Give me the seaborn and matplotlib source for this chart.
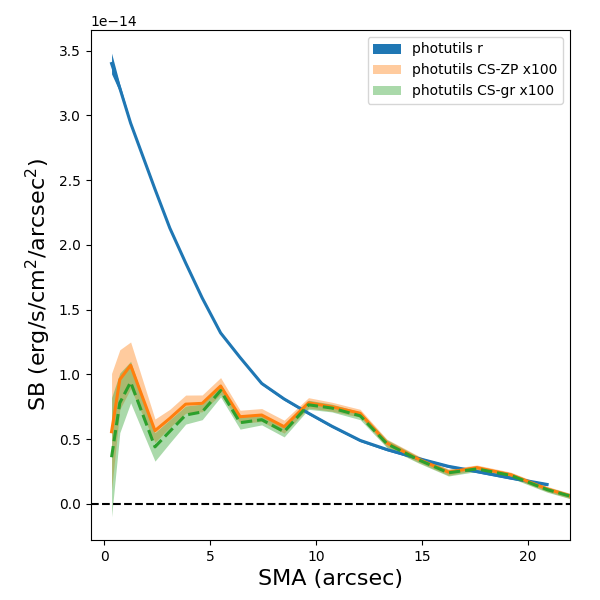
import numpy as np
import pandas as pd
import matplotlib
matplotlib.use("Agg")
import matplotlib.pyplot as plt
import seaborn as sns

# SMA (arcsec)
sma = [0.35, 0.74, 1.25, 2.40, 3.10, 3.85, 4.63, 5.50, 6.42, 7.44, 8.50,
       9.65, 10.75, 12.09, 13.35, 14.85, 16.26, 17.60, 19.20, 20.92, 22.0]

# photutils r (units of 1e-14)
sb_r = [3.40, 3.21, 2.94, 2.43, 2.13, 1.86, 1.59, 1.32, 1.13, 0.93, 0.81,
        0.70, 0.60, 0.49, 0.42, 0.35, 0.29, 0.25, 0.20, 0.15]
err_r = [0.08, 0.03, 0.01, 0.01, 0.01, 0.01, 0.01, 0.01, 0.01, 0.01, 0.01,
         0.01, 0.01, 0.01, 0.01, 0.01, 0.01, 0.01, 0.01, 0.01]

# photutils CS-ZP x100
sb_zp = [0.557, 0.96, 1.07, 0.565, 0.66, 0.77, 0.776, 0.91, 0.673, 0.686, 0.596,
         0.78, 0.75, 0.70, 0.47, 0.345, 0.245, 0.28, 0.225, 0.115, 0.062]
err_zp = [0.45, 0.23, 0.18, 0.09, 0.07, 0.07, 0.065, 0.065, 0.05, 0.05, 0.05,
          0.04, 0.035, 0.03, 0.03, 0.025, 0.025, 0.02, 0.02, 0.02, 0.02]

# photutils CS-gr x100
sb_gr = [0.36, 0.78, 0.94, 0.44, 0.56, 0.686, 0.71, 0.875, 0.627, 0.65, 0.557,
         0.765, 0.74, 0.68, 0.465, 0.34, 0.24, 0.27, 0.22, 0.11, 0.06]
err_gr = [0.46, 0.23, 0.16, 0.11, 0.09, 0.07, 0.06, 0.05, 0.05, 0.04, 0.04,
          0.035, 0.03, 0.03, 0.03, 0.025, 0.025, 0.02, 0.02, 0.02, 0.02]

scale = 1e-14

fig = plt.figure(figsize=(6, 6), dpi=100)
ax = fig.add_axes([0.151, 0.10, 0.799, 0.85])

x_r = np.array(sma[:len(sb_r)])
y_r = np.array(sb_r) * scale
e_r = np.array(err_r) * scale
x = np.array(sma)
y_zp = np.array(sb_zp) * scale
e_zp = np.array(err_zp) * scale
y_gr = np.array(sb_gr) * scale
e_gr = np.array(err_gr) * scale

ax.fill_between(x_r, y_r - e_r, y_r + e_r, color="#1f77b4", alpha=1.0,
                label="photutils r", lw=0)
ax.fill_between(x, y_zp - e_zp, y_zp + e_zp, color="#ff7f0e", alpha=0.4,
                label="photutils CS-ZP x100", lw=0)
ax.fill_between(x, y_gr - e_gr, y_gr + e_gr, color="#2ca02c", alpha=0.4,
                label="photutils CS-gr x100", lw=0)

df_r = pd.DataFrame({"sma": x_r, "sb": y_r})
df_zp = pd.DataFrame({"sma": x, "sb": y_zp})
df_gr = pd.DataFrame({"sma": x, "sb": y_gr})
sns.lineplot(data=df_r, x="sma", y="sb", ax=ax, color="#1f77b4", lw=2.2,
             sort=False, legend=False)
sns.lineplot(data=df_zp, x="sma", y="sb", ax=ax, color="#ff7f0e", lw=2.2,
             sort=False, legend=False)
sns.lineplot(data=df_gr, x="sma", y="sb", ax=ax, color="#2ca02c", lw=2.2,
             linestyle="--", sort=False, legend=False)

ax.axhline(0, color="k", ls="--", lw=1.5)

ax.set_xlim(-0.64, 22.0)
ax.set_xlabel("SMA (arcsec)", fontsize=16)
ax.set_ylabel("SB (erg/s/cm$^2$/arcsec$^2$)", fontsize=16)
ax.legend(loc="upper right")

fig.savefig("out.png", dpi=100)
